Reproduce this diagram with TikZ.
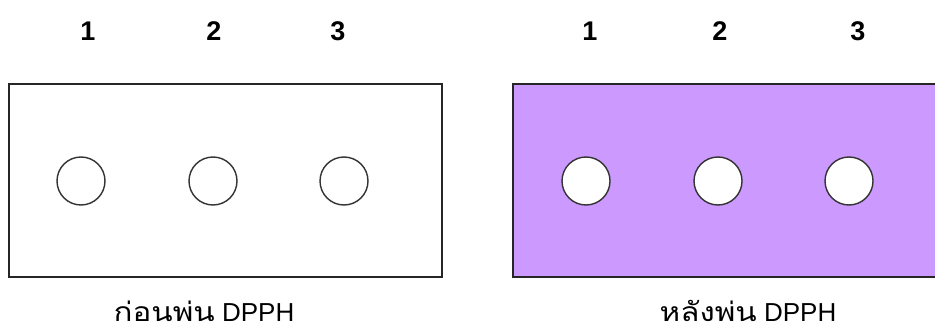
\documentclass[tikz,border=0pt]{standalone}
\usepackage{fontspec}
\setmainfont{Liberation Sans}
\newfontfamily\thaifont[Script=Thai,Scale=1.02,FakeStretch=1.18]{Loma}
\definecolor{dpphpurple}{HTML}{CC99FF}
\begin{document}
\begin{tikzpicture}[x=1pt,y=-1pt,
  plate/.style={draw=black!85,line width=1.5pt},
  well/.style={circle,draw=black!80,line width=1.4pt,minimum size=48pt,inner sep=0pt},
  numlabel/.style={font=\fontsize{27}{29}\selectfont\bfseries,inner sep=0pt},
  caption/.style={font=\fontsize{26}{28}\selectfont,inner sep=0pt,anchor=base}]
\useasboundingbox (0,0) rectangle (935,329);
\clip (0,0) rectangle (935,329);
\fill[white] (0,0) rectangle (935,329);
% left plate
\draw[plate,fill=white] (9,84) rectangle (442,277);
\node[well,fill=white] (l1) at (81,181) {};
\node[well,fill=white] (l2) at (213,181) {};
\node[well,fill=white] (l3) at (344,181) {};
\node[numlabel] (n1) at (88,31) {1};
\node[numlabel] (n2) at (214,31) {2};
\node[numlabel] (n3) at (338,31) {3};
\node[caption] (capl) at (204,321) {{\thaifont ก่อนพ่น} DPPH};
% right plate
\draw[plate,fill=dpphpurple] (513,84) rectangle (945,277);
\node[well,fill=white] (r1) at (586,181) {};
\node[well,fill=white] (r2) at (718,181) {};
\node[well,fill=white] (r3) at (849,181) {};
\node[numlabel] (m1) at (590,31) {1};
\node[numlabel] (m2) at (720,31) {2};
\node[numlabel] (m3) at (858,31) {3};
\node[caption] (capr) at (748,321) {{\thaifont หลังพ่น} DPPH};
\end{tikzpicture}
\end{document}
